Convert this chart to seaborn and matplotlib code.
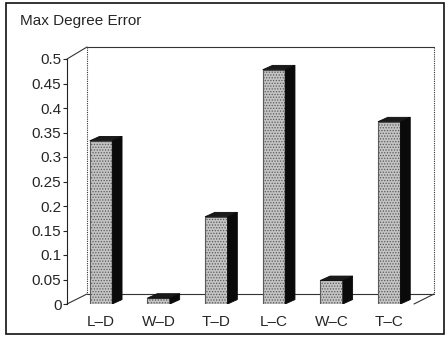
import matplotlib
matplotlib.use("Agg")
import matplotlib.pyplot as plt
from matplotlib.patches import Polygon, Rectangle
from matplotlib.lines import Line2D
import seaborn as sns
import pandas as pd

categories = ["L–D", "W–D", "T–D", "L–C", "W–C", "T–C"]
errors = [0.333, 0.012, 0.178, 0.478, 0.048, 0.372]
yticks = [0, 0.05, 0.1, 0.15, 0.2, 0.25, 0.3, 0.35, 0.4, 0.45, 0.5]
ytick_labels = ["0", "0.05", "0.1", "0.15", "0.2", "0.25", "0.3", "0.35", "0.4", "0.45", "0.5"]

sns.set_style("white")
plt.rcParams["font.family"] = ["Liberation Sans", "DejaVu Sans"]
plt.rcParams["hatch.linewidth"] = 0.6

W, H = 446, 338
fig = plt.figure(figsize=(W / 100, H / 100), dpi=100)

def fx(px):
    return px / W

def fy(py):
    return 1 - py / H

# front plane of the plot box
ax = fig.add_axes([fx(67), fy(304), fx(414) - fx(67), fy(59) - fy(304)])
df = pd.DataFrame({"cat": categories, "err": errors})
sns.barplot(data=df, x="cat", y="err", ax=ax, color="#c4c4c4", width=0.39,
            saturation=1, edgecolor="#5a5a5a", linewidth=0.8, hatch="......")
ax.set_xlim(-0.59, 5.43)
ax.set_ylim(0, 0.5)
for s in ["top", "right", "bottom"]:
    ax.spines[s].set_visible(False)
ax.spines["left"].set_linewidth(0.8)
ax.spines["left"].set_color("#222222")
ax.set_yticks(yticks)
ax.set_yticklabels(ytick_labels, fontsize=11)
ax.tick_params(axis="y", length=3, width=0.8, pad=1, direction="out", left=True)
ax.set_xticks(range(len(categories)))
ax.set_xticklabels(categories, fontsize=11)
ax.tick_params(axis="x", length=0, pad=8)
ax.set_xlabel("")
ax.set_ylabel("")
ax.patch.set_alpha(0)

# depth of the bars: right side and top cap
dx, dy = 0.17, 0.009
for bar in list(ax.patches):
    x0 = bar.get_x()
    w = bar.get_width()
    h = bar.get_height()
    x1 = x0 + w
    side = Polygon([(x1, 0), (x1 + dx, dy), (x1 + dx, h + dy), (x1, h)],
                   closed=True, facecolor="#0a0a0a", edgecolor="#0a0a0a", lw=0.6)
    top = Polygon([(x0, h), (x0 + dx, h + dy), (x1 + dx, h + dy), (x1, h)],
                  closed=True, facecolor="#1a1a1a", edgecolor="#0a0a0a", lw=0.6)
    ax.add_patch(side)
    ax.add_patch(top)

# back wall and floor outline in figure coordinates
def fline(xs, ys, **kw):
    fig.add_artist(Line2D([fx(x) for x in xs], [fy(y) for y in ys],
                          color=kw.get("color", "#333333"), lw=kw.get("lw", 0.8),
                          ls=kw.get("ls", "-"), zorder=0))

fline([67, 87], [59, 47])
fline([87, 434], [47, 47])
fline([87, 87], [47, 294], ls=(0, (1, 1)))
fline([434, 434], [47, 294], ls=(0, (1, 1)))
fline([87, 434], [294, 294])
fline([67, 87], [304, 294])
fline([414, 434], [304, 294])

# outer frame and title
fig.add_artist(Rectangle((fx(6), fy(334)), fx(444) - fx(6), fy(3) - fy(334),
                         fill=False, edgecolor="#111111", lw=1.2))
fig.text(fx(20), fy(25), "Max Degree Error", fontsize=11, ha="left", va="baseline")

fig.savefig("out.png", dpi=100)
